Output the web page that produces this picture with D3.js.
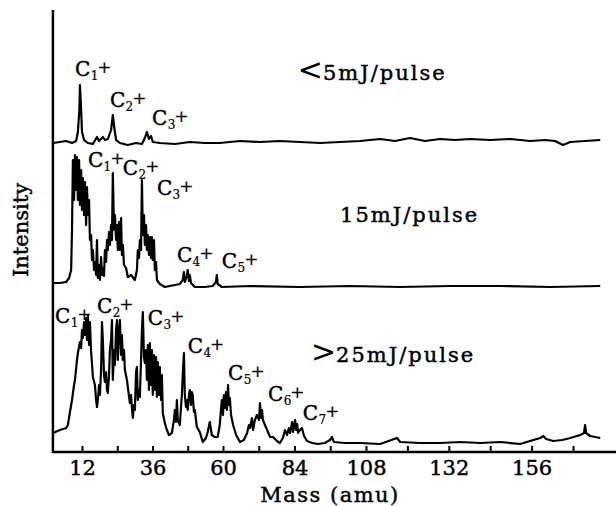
<!DOCTYPE html>
<html>
<head>
<meta charset="utf-8">
<script src="https://cdn.jsdelivr.net/npm/d3@7"></script>
<style>
  body { margin: 0; background: #fff; }
  text { font-family: 'DejaVu Serif', serif; fill: #000; stroke: #000; stroke-width: 0.45; }
</style>
</head>
<body>
<script>
// spectra: [mass (amu), intensity (arb.)]
const lowPulse = [
  [2.1,5],[4.5,6],[6.6,7],[8.6,5],[10.0,7],[10.6,16],[11.1,38],[11.3,63],[11.7,38],[12.0,16],
  [12.7,8],[14.0,5],[15.7,4],[17.1,11],[17.8,7],[19.1,11],[19.8,8],[20.8,9],[21.9,18],[22.5,33],
  [23.1,18],[23.6,8],[24.9,5],[27.6,3],[30.4,5],[32.4,4],[33.4,10],[34.1,16],[34.8,9],[35.5,12],
  [36.1,6],[38.5,5],[43.6,4],[48.7,6],[53.8,5],[58.9,5],[65.7,7],[72.4,6],[79.1,7],[85.8,6],
  [92.6,5],[99.3,6],[106,7],[112.1,9],[116.4,7],[120.8,10],[125.1,7],[129.5,9],[133.8,8],[138.2,9],
  [144,8],[149.8,9],[155.6,7],[159.9,8],[162.8,7],[165.1,3],[167.2,6],[171.5,7],[175.9,8]
];

const midPulse = [
  [2.1,7],[4.5,7],[6.6,8],[7.6,12],[8.3,20],[8.6,60],[8.9,130],[9.3,90],[9.6,135],[10.0,100],
  [10.3,133],[10.6,90],[11.0,130],[11.3,85],[11.7,120],[12.0,80],[12.3,112],[12.7,75],[13.0,108],[13.4,65],
  [13.7,103],[14.0,75],[14.4,90],[14.7,50],[15.1,55],[15.4,30],[15.7,40],[16.1,20],[16.4,28],[16.8,15],
  [17.1,50],[17.4,12],[17.8,25],[18.1,10],[18.5,33],[18.8,15],[19.1,22],[19.5,14],[19.8,40],[20.2,28],
  [20.5,50],[20.8,40],[21.2,58],[21.5,45],[21.9,65],[22.2,50],[22.5,117],[22.9,60],[23.2,75],[23.6,50],
  [23.9,65],[24.2,40],[24.6,68],[24.9,40],[25.3,72],[25.6,35],[25.9,45],[26.3,25],[27.0,22],[27.6,13],
  [28.7,15],[30.0,10],[30.7,20],[31.0,40],[31.4,32],[31.7,50],[32.1,40],[32.4,110],[32.7,55],[33.1,75],
  [33.4,45],[33.8,65],[34.1,40],[34.4,55],[34.8,35],[35.1,53],[35.5,32],[35.8,53],[36.1,30],[36.5,50],
  [36.8,20],[37.2,28],[37.5,10],[38.5,6],[40.2,3],[41.9,4],[43.6,5],[45.3,6],[46.3,10],[46.7,18],
  [47.0,8],[47.7,14],[48.0,20],[48.4,9],[48.7,15],[49.1,7],[50.4,3],[53.8,3],[56.5,4],[57.6,8],
  [57.9,15],[58.2,6],[59.6,3],[69.1,4],[85.8,3],[102.6,4],[117.9,3],[132.4,4],[146.9,4],[161.4,3],
  [175.9,4]
];

const highPulse = [
  [2.1,19],[4.5,22],[6.6,24],[7.2,27],[7.9,40],[8.6,52],[9.3,67],[9.6,72],[10.3,92],[10.6,99],
  [11.3,110],[11.7,104],[12.0,122],[12.3,114],[12.7,130],[13.0,117],[13.4,134],[13.7,112],[14.0,137],[14.4,107],
  [14.7,130],[15.1,100],[15.4,89],[15.7,75],[16.4,67],[16.8,52],[17.1,45],[17.4,52],[17.8,67],[18.1,57],
  [18.5,82],[18.8,130],[19.1,112],[19.5,77],[19.8,70],[20.2,80],[20.5,62],[20.8,59],[21.2,77],[21.5,102],
  [21.9,112],[22.2,132],[22.5,72],[22.9,102],[23.2,87],[23.6,122],[23.9,132],[24.2,92],[24.6,122],[24.9,132],
  [25.3,97],[25.6,117],[25.9,92],[26.3,102],[26.6,82],[27.3,72],[27.6,65],[28.3,49],[28.7,57],[29.0,44],
  [29.3,34],[29.7,47],[30.0,42],[30.4,80],[30.7,85],[31.0,52],[31.4,62],[31.7,55],[32.1,92],[32.4,122],
  [32.7,140],[33.1,95],[33.4,89],[33.8,102],[34.1,72],[34.4,107],[34.8,62],[35.1,109],[35.5,67],[35.8,102],
  [36.1,57],[36.5,97],[36.8,62],[37.2,95],[37.5,55],[37.8,90],[38.2,57],[38.5,85],[38.9,52],[39.2,77],
  [39.5,39],[40.2,29],[40.9,22],[41.6,17],[42.6,19],[43.3,32],[43.6,42],[44.0,30],[44.3,52],[44.6,32],
  [45.3,27],[45.7,45],[46.0,57],[46.3,77],[46.7,99],[47.0,57],[47.4,45],[47.7,52],[48.0,42],[48.4,57],
  [48.7,62],[49.1,47],[49.4,60],[49.7,57],[50.1,40],[50.4,42],[51.1,25],[52.1,20],[53.1,10],[54.2,14],
  [54.8,20],[55.5,30],[56.2,17],[57.2,15],[58.2,15],[58.9,27],[59.3,42],[59.6,52],[60.0,37],[60.3,57],
  [60.7,44],[61.0,60],[61.3,42],[61.7,67],[62.0,47],[62.3,54],[62.7,37],[63.4,27],[64.4,17],[65.7,10],
  [67.0,12],[68.1,19],[68.7,27],[69.1,24],[69.7,34],[70.1,22],[70.7,32],[71.4,37],[72.1,32],[72.4,49],
  [72.8,34],[73.1,42],[73.4,32],[74.1,27],[74.8,22],[75.8,15],[76.8,15],[78.1,11],[79.1,9],[80.1,14],
  [80.8,22],[81.5,17],[82.1,24],[82.5,19],[83.2,30],[83.5,20],[84.2,32],[84.5,22],[84.9,28],[85.2,19],
  [85.8,22],[86.5,24],[87.2,16],[88.2,11],[89.9,9],[91.9,8],[94.2,9],[95.9,12],[96.6,15],[97.2,10],
  [100.9,9],[106,9],[112.1,8],[117,14],[117.9,10],[123.7,9],[129.5,9],[135.3,10],[141.1,9],[146.9,10],
  [152.7,8],[156.5,12],[158.5,14],[159.4,16],[160.2,13],[162.3,11],[164.9,12],[167.2,14],[170.1,17],[171.2,19],
  [171.5,27],[171.8,19],[173,16],[175.9,14]
];

// energy labels
const energySign = ['<', '', '>'];
const energyText = ['5mJ/pulse', '15mJ/pulse', '25mJ/pulse'];
const energyAt = [[85.8, 68], [99.3, 68], [90.2, 90]];

// ion labels: cluster size n, anchor [mass, intensity]
const lowIons = [[1, 9.6, 72], [2, 21.5, 41], [3, 35.8, 23]];
const midIons = [[1, 14.0, 123], [2, 25.9, 115], [3, 37.5, 95], [4, 44.3, 28], [5, 59.6, 22]];
const highIons = [[1, 2.8, 129], [2, 17.1, 139], [3, 34.4, 127], [4, 48.0, 99], [5, 61.7, 72], [6, 75.1, 51], [7, 86.8, 32]];

const xTickLabels = [12, 36, 60, 84, 108, 132, 156];
const massExtent = [2.1, 180.5];

// set the dimensions
const width = 616;
const height = 506;
const axisY = 452;
const topY = 10;

const svg = d3
  .select('body')
  .append('svg')
  .attr('width', width)
  .attr('height', height);

// the scanned axis is slightly stretched, so calibrate piecewise
const x = d3
  .scaleLinear()
  .domain([12, 60, 108, 168])
  .range([82, 223, 366, 573]);

const panels = [
  { data: lowPulse, base: 148, ions: lowIons },
  { data: midPulse, base: 290, ions: midIons },
  { data: highPulse, base: axisY, ions: highIons },
];

panels.forEach((p, i) => {
  const y = d3.scaleLinear().domain([0, 150]).range([p.base, p.base - 150]);
  const line = d3.line().x(d => x(d[0])).y(d => y(d[1]));

  svg.append('path')
    .datum(p.data)
    .attr('d', line)
    .attr('fill', 'none')
    .attr('stroke', '#000')
    .attr('stroke-width', 2.2)
    .attr('stroke-linejoin', 'round');

  // ion labels C_n^+
  const ion = svg.append('g').selectAll('text')
    .data(p.ions)
    .enter()
    .append('text')
    .attr('x', d => x(d[1]))
    .attr('y', d => y(d[2]))
    .attr('font-size', 20);
  ion.append('tspan').text('C');
  ion.append('tspan').attr('dx', 0.4).attr('dy', 4).attr('font-size', 12)
    .attr('stroke-width', 0.2).text(d => d[0]);
  ion.append('tspan').attr('dx', -1).attr('dy', -7.5).attr('font-size', 17)
    .attr('stroke-width', 0.2).text('+');

  // pulse energy label
  const t = svg.append('text')
    .attr('x', x(energyAt[i][0]))
    .attr('y', y(energyAt[i][1]))
    .attr('font-size', 21)
    .attr('letter-spacing', 2);
  if (energySign[i]) {
    t.append('tspan')
      .attr('font-family', 'DejaVu Sans')
      .attr('font-size', 30)
      .attr('stroke-width', 0)
      .attr('letter-spacing', 0)
      .attr('dx', -2)
      .text(energySign[i]);
  }
  t.append('tspan').text(energyText[i]);
});

// axes
const axisG = svg.append('g').attr('transform', `translate(0,${axisY})`);
axisG.call(d3.axisBottom(x).tickValues(d3.range(12, 169, 12)).tickSizeInner(-6).tickSizeOuter(0).tickFormat(''));
axisG.selectAll('.tick line').attr('stroke-width', 2);
axisG.select('.domain').remove();

const labelG = svg.append('g').attr('transform', `translate(0,${axisY})`);
labelG.call(d3.axisBottom(x).tickValues(xTickLabels).tickSize(0).tickPadding(8));
labelG.select('.domain').remove();
labelG.selectAll('text')
  .attr('font-family', 'DejaVu Serif')
  .attr('font-size', 21)
  .attr('fill', '#000');

svg.append('line')
  .attr('x1', x(massExtent[0])).attr('x2', x(massExtent[1]))
  .attr('y1', axisY).attr('y2', axisY)
  .attr('stroke', '#000').attr('stroke-width', 2.5);

svg.append('line')
  .attr('x1', x(massExtent[0])).attr('x2', x(massExtent[0]))
  .attr('y1', topY).attr('y2', axisY + 1)
  .attr('stroke', '#000').attr('stroke-width', 2.5);

// axis titles
svg.append('text')
  .attr('x', 330)
  .attr('y', 502)
  .attr('text-anchor', 'middle')
  .attr('font-size', 21)
  .attr('letter-spacing', 1.5)
  .text('Mass (amu)');

svg.append('text')
  .attr('transform', 'rotate(-90)')
  .attr('x', -230)
  .attr('y', 28)
  .attr('text-anchor', 'middle')
  .attr('font-size', 21)
  .text('Intensity');
</script>
</body>
</html>
